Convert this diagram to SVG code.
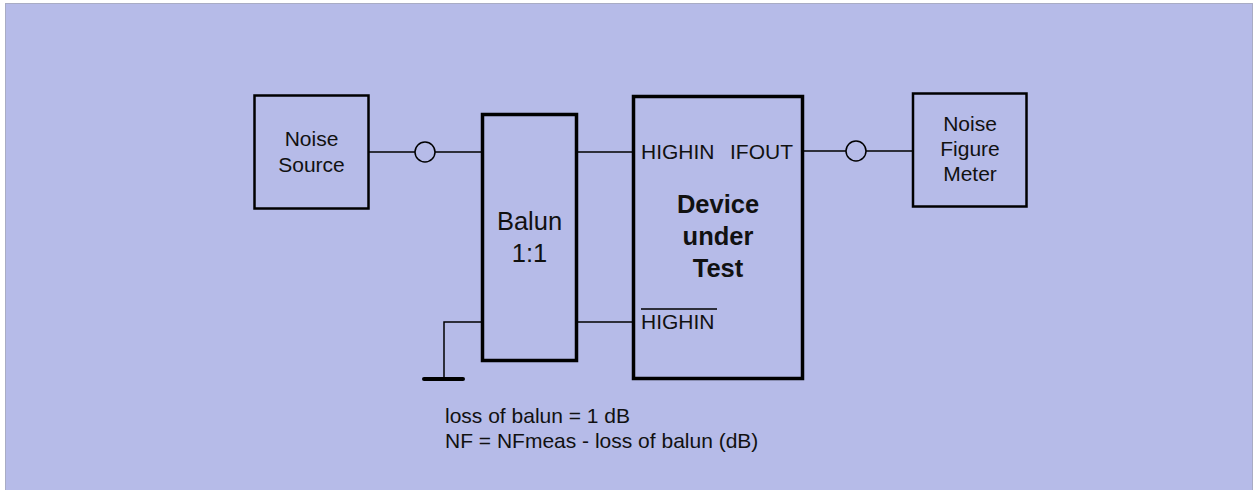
<svg xmlns="http://www.w3.org/2000/svg" width="1260" height="490" viewBox="0 0 1260 490">
<style>
.t{font-family:"Liberation Sans",Arial,sans-serif;font-size:21px;fill:#111}
.c{text-anchor:middle}
.b{font-weight:bold;font-size:25.5px}
.big{font-size:25.5px}
.box{fill:none;stroke:#000}
.w{fill:none;stroke:#000;stroke-width:1.5}
</style>
<rect x="5.5" y="3.5" width="1247" height="490" fill="#b6bbe8" stroke="#a9acc4" stroke-width="1"/>
<g id="connectors">
<line class="w" x1="369" y1="152" x2="415" y2="152"/>
<circle class="w" cx="425" cy="152" r="10"/>
<line class="w" x1="435" y1="152" x2="482" y2="152"/>
<line class="w" x1="577" y1="152" x2="633" y2="152"/>
<line class="w" x1="577" y1="322" x2="633" y2="322"/>
<polyline class="w" points="482,322 444,322 444,379"/>
<line x1="424" y1="379" x2="463" y2="379" stroke="#000" stroke-width="4" stroke-linecap="round"/>
<line class="w" x1="803" y1="151" x2="846" y2="151"/>
<circle class="w" cx="856" cy="151" r="10"/>
<line class="w" x1="866" y1="151" x2="913" y2="151"/>
</g>
<g id="noise-source">
<rect class="box" x="254.5" y="95.5" width="114" height="113" stroke-width="2.5"/>
<text class="t c" x="311.5" y="145.5">Noise</text>
<text class="t c" x="311.5" y="171.5">Source</text>
</g>
<g id="balun">
<rect class="box" x="482.5" y="114.5" width="94" height="246" stroke-width="3.5"/>
<text class="t c big" x="529.5" y="229.5">Balun</text>
<text class="t c big" x="529.5" y="261.5">1:1</text>
</g>
<g id="dut">
<rect class="box" x="633.5" y="96.5" width="169" height="282" stroke-width="3.5"/>
<text class="t" x="641" y="159">HIGHIN</text>
<text class="t" x="793" y="159" text-anchor="end">IFOUT</text>
<text class="t c b" x="718" y="213">Device</text>
<text class="t c b" x="718" y="245">under</text>
<text class="t c b" x="718" y="277">Test</text>
<text class="t" x="641" y="329">HIGHIN</text>
<line x1="641" y1="309" x2="717" y2="309" stroke="#000" stroke-width="1.5"/>
</g>
<g id="noise-figure-meter">
<rect class="box" x="913" y="93.5" width="113.5" height="113" stroke-width="2.5"/>
<text class="t c" x="970" y="130.5">Noise</text>
<text class="t c" x="970" y="156">Figure</text>
<text class="t c" x="970" y="181">Meter</text>
</g>
<g id="notes">
<text class="t" x="445" y="422.5">loss of balun = 1 dB</text>
<text class="t" x="445" y="448">NF = NFmeas - loss of balun (dB)</text>
</g>
</svg>
